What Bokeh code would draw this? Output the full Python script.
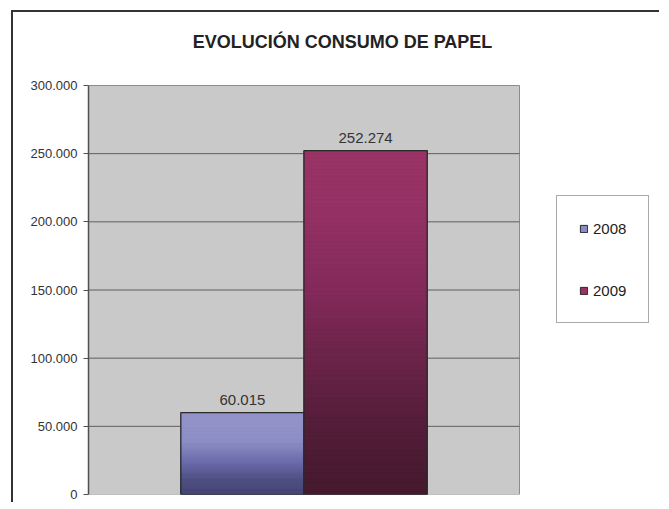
import numpy as np
from bokeh.plotting import figure
from bokeh.models import (Range1d, FixedTicker, Label, LabelSet, ColumnDataSource,
                          Legend, LegendItem, BoxAnnotation)
from bokeh.core.properties import value
from bokeh.embed import file_html
from bokeh.resources import INLINE

# ---------------- data ----------------
title = "EVOLUCIÓN CONSUMO DE PAPEL"
years = ["2008", "2009"]
values = [60015, 252274]
y_ticks = [0, 50000, 100000, 150000, 200000, 250000, 300000]
y_tick_labels = ["0", "50.000", "100.000", "150.000", "200.000", "250.000", "300.000"]
y_max = 300000

# gradient stops (fraction from bar top -> colour)
grad_2008 = [(0.0, "#9696CB"), (0.35, "#8F8FC7"), (0.62, "#6A6AAA"), (0.82, "#4F4F82"), (1.0, "#434371")]
grad_2009 = [(0.0, "#9A3366"), (0.15, "#963265"), (0.4, "#842A5B"), (0.6, "#6B2449"), (0.8, "#531D39"), (1.0, "#44192D")]
gradients = [grad_2008, grad_2009]
swatch_colors = ["#8A8AC4", "#993366"]

def hex2rgb(h):
    h = h.lstrip("#")
    return np.array([int(h[i:i + 2], 16) for i in (0, 2, 4)], dtype=float)

def grad_color(stops, f):
    fs = [s[0] for s in stops]
    cs = np.array([hex2rgb(s[1]) for s in stops])
    rgb = [np.interp(f, fs, cs[:, k]) for k in range(3)]
    return "#%02x%02x%02x" % tuple(int(round(c)) for c in rgb)

def fmt(v):
    return f"{v:,}".replace(",", ".")

# layout: plot area occupies x in [0, 1] and y in [0, y_max];
# the rest of the frame holds the title and the legend
W, H = 648, 492
LEFT, BOTTOM = 75, 10
AREA_W, AREA_H = 431, 409
frame_h = H - BOTTOM
x_end = (W - LEFT) / AREA_W
y_end = y_max * frame_h / AREA_H

p = figure(width=W, height=H, output_backend="svg", toolbar_location=None, tools="",
           x_range=Range1d(0, x_end), y_range=Range1d(0, y_end),
           x_axis_location=None,
           min_border_left=LEFT, min_border_right=0, min_border_top=0, min_border_bottom=BOTTOM,
           background_fill_color="white", border_fill_color="white",
           outline_line_color=None,
           margin=(10, 0, 0, 11),
           styles={"border-left": "2px solid #333333", "border-top": "2px solid #333333"})

# plot area background
p.add_layout(BoxAnnotation(left=0, right=1, bottom=0, top=y_max, level="underlay",
                           fill_color="#C9C9C9", fill_alpha=1,
                           line_color="#8C8C8C", line_width=1, line_alpha=1))

# axes / grid
ax = p.yaxis[0]
ax.bounds = (0, y_max)
ax.ticker = FixedTicker(ticks=y_ticks)
ax.major_label_overrides = {t: l for t, l in zip(y_ticks, y_tick_labels)}
ax.minor_tick_line_color = None
ax.major_tick_in = 0
ax.major_tick_out = 5
ax.major_tick_line_color = "#505050"
ax.axis_line_color = "#505050"
ax.axis_line_width = 1.5
ax.major_label_standoff = 6
ax.major_label_text_font = "Liberation Sans"
ax.major_label_text_font_size = "13px"
ax.major_label_text_color = "#333333"
p.xgrid.visible = False
p.ygrid.visible = False
inner = y_ticks[1:-1]
p.segment(x0=[0] * len(inner), x1=[1] * len(inner), y0=inner, y1=inner,
          line_color="#5E5E5E", line_width=1)

# bars
gap = 1.5
n = len(values)
bw = 1.0 / (n + gap)
left0 = 0.5 - n * bw / 2
N = 90
base_renderers = []
centers = []
for i, (yr, v) in enumerate(zip(years, values)):
    x0 = left0 + i * bw
    x1 = x0 + bw
    centers.append((x0 + x1) / 2)
    r = p.quad(left=[x0], right=[x1], bottom=[0], top=[v],
               fill_color=swatch_colors[i], line_color="#2A2A2A", line_width=1)
    base_renderers.append(r)
    f = np.linspace(0, 1, N + 1)
    tops = [v * (1 - f[k]) for k in range(N)]
    bots = [v * (1 - f[k + 1]) for k in range(N)]
    cols = [grad_color(gradients[i], (f[k] + f[k + 1]) / 2) for k in range(N)]
    p.quad(left=[x0] * N, right=[x1] * N, top=tops, bottom=bots,
           fill_color=cols, line_color=cols, line_width=0.6)
    p.quad(left=[x0], right=[x1], bottom=[0], top=[v],
           fill_color=None, line_color="#2A2A2A", line_width=1.2)

# data labels
src = ColumnDataSource(dict(x=centers, y=values, t=[fmt(v) for v in values]))
p.add_layout(LabelSet(x="x", y="y", text="t", source=src, y_offset=8,
                      text_align="center", text_baseline="alphabetic",
                      text_font=value("Liberation Sans"), text_font_size="15px",
                      text_color="#333333"))

# title (screen units relative to the frame's bottom-left corner)
p.add_layout(Label(x=254, y=frame_h - 29, x_units="screen", y_units="screen", text=title,
                   text_align="center", text_baseline="alphabetic",
                   text_font="Liberation Sans", text_font_style="bold",
                   text_font_size="18px", text_color="#222222"))

# legend
legend = Legend(items=[LegendItem(label=yr, renderers=[base_renderers[i]]) for i, yr in enumerate(years)],
                location=(468, 171), orientation="vertical",
                border_line_color="#555555", border_line_width=1,
                background_fill_color="white", background_fill_alpha=1,
                padding=22, spacing=42, margin=0,
                glyph_width=9, glyph_height=9, label_standoff=5, label_height=20,
                label_text_font="Liberation Sans", label_text_font_size="15px",
                label_text_color="#222222")
p.add_layout(legend)

open("out.html", "w").write(file_html(p, INLINE))
